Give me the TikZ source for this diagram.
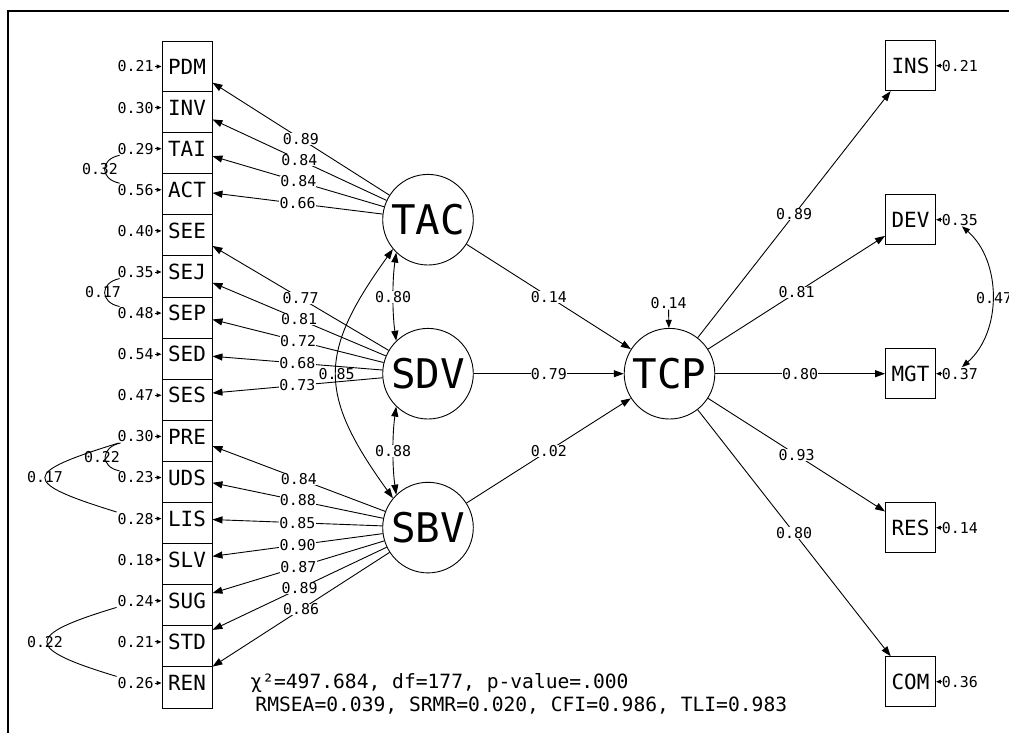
\documentclass[tikz,border=0pt]{standalone}
\usepackage{fontspec}
\setmainfont{DejaVu Sans Mono}
\usetikzlibrary{arrows.meta}
\begin{document}
\begin{tikzpicture}[x=1bp,y=-1bp, line width=0.9bp,
  obs/.style={draw, fill=white, minimum width=50bp, minimum height=50bp, inner sep=0pt, font=\fontsize{21}{21}\selectfont},
  lat/.style={draw, circle, fill=white, minimum size=90.6bp, inner sep=0pt, font=\fontsize{41}{41}\selectfont},
  lbl/.style={fill=white, inner sep=0.2bp, font=\fontsize{15}{15}\selectfont},
  res/.style={inner sep=0.5bp, font=\fontsize{15}{15}\selectfont},
  cov/.style={inner sep=0.5bp, font=\fontsize{15}{15}\selectfont},
  arr/.style={-{Triangle[length=10bp,width=7bp]}},
  marr/.style={-{Triangle[length=8bp,width=6bp]}},
  sarr/.style={-{Triangle[length=5bp,width=4bp]}},
  darr/.style={{Triangle[length=10bp,width=7bp]}-{Triangle[length=10bp,width=7bp]}},
  dmarr/.style={{Triangle[length=8bp,width=6bp]}-{Triangle[length=8bp,width=6bp]}},
  fit/.style={inner sep=0pt, anchor=west, font=\fontsize{19.7}{19.7}\selectfont}
]
\useasboundingbox (0,0) rectangle (1009,733);
\draw[line width=1.5bp] (8,733) -- (8,11) -- (1009,11);

% left observed variables (drawn bottom first so upper boxes overlap lower)
\foreach \n/\i/\r in {REN/15/0.26, STD/14/0.21, SUG/13/0.24, SLV/12/0.18, LIS/11/0.28, UDS/10/0.23, PRE/9/0.30, SES/8/0.47, SED/7/0.54, SEP/6/0.48, SEJ/5/0.35, SEE/4/0.40, ACT/3/0.56, TAI/2/0.29, INV/1/0.30, PDM/0/0.21}{
  \node[obs] (\n) at (187,{66.5+41.1*\i}) {\n};
  \node[res, anchor=east] (r\n) at (154.5,{66.5+41.1*\i}) {\r};
  \draw[sarr] (r\n) -- (\n);
}

% right observed variables
\foreach \n/\i/\r in {INS/0/0.21, DEV/1/0.35, MGT/2/0.37, RES/3/0.14, COM/4/0.36}{
  \node[obs] (\n) at (910.5,{65.7+154*\i}) {\n};
  \node[res, anchor=west] (r\n) at (941,{65.7+154*\i}) {\r};
  \draw[sarr] (r\n) -- (\n);
}

% latent variables
\node[lat] (TAC) at (428,219.7) {TAC};
\node[lat] (SDV) at (428,373.7) {SDV};
\node[lat] (SBV) at (428,527.6) {SBV};
\node[lat] (TCP) at (669.5,373.7) {TCP};

% loadings
\foreach \n/\v [count=\k] in {PDM/0.89, INV/0.84, TAI/0.84, ACT/0.66}
  \draw[arr] (TAC) -- node[lbl] (la\k) {\v} (\n);
\foreach \n/\v [count=\k] in {SEE/0.77, SEJ/0.81, SEP/0.72, SED/0.68, SES/0.73}
  \draw[arr] (SDV) -- node[lbl] (lb\k) {\v} (\n);
\foreach \n/\v [count=\k] in {PRE/0.84, UDS/0.88, LIS/0.85, SLV/0.90, SUG/0.87, STD/0.89, REN/0.86}
  \draw[arr] (SBV) -- node[lbl] (lc\k) {\v} (\n);
\foreach \n/\v [count=\k] in {INS/0.89, DEV/0.81, MGT/0.80, RES/0.93, COM/0.80}
  \draw[arr] (TCP) -- node[lbl] (ld\k) {\v} (\n);

% structural paths
\draw[arr] (TAC) -- node[lbl] (s1) {0.14} (TCP);
\draw[arr] (SDV) -- node[lbl] (s2) {0.79} (TCP);
\draw[arr] (SBV) -- node[lbl] (s3) {0.02} (TCP);
\node[res] (rTCP) at (668.5,303) {0.14};
\draw[marr] (rTCP) -- (TCP);

% latent covariances
\draw[darr] (TAC.226) .. controls +(-4,28) and +(-4,-28) .. node[lbl] (k1) {0.80} (SDV.134);
\draw[darr] (SDV.226) .. controls +(-4,28) and +(-4,-28) .. node[lbl] (k2) {0.88} (SBV.134);
\draw[darr] (TAC.220) .. controls +(-75,104) and +(-75,-104) .. node[cov] (k3) {0.85} (SBV.140);

% residual covariances (left)
\draw ([xshift=3bp]rTAI.south west) .. controls +(-20,4) and +(-20,-4) .. ([xshift=3bp]rACT.north west);
\node[cov] (c1) at (100,169) {0.32};
\draw ([xshift=3bp]rSEJ.south west) .. controls +(-20,4) and +(-20,-4) .. ([xshift=3bp]rSEP.north west);
\node[cov] (c2) at (103,292) {0.17};
\draw ([xshift=4bp]rPRE.south west) .. controls +(-20,4) and +(-20,-4) .. ([xshift=3bp]rUDS.north west);
\node[cov] (c3) at (102,457) {0.22};
\draw ([xshift=2bp]rPRE.south west) .. controls +(-97,30) and +(-97,-30) .. ([xshift=0bp]rLIS.north west);
\node[cov] (c4) at (45,477) {0.17};
\draw ([xshift=0bp]rSUG.south west) .. controls +(-93,28) and +(-93,-28) .. ([xshift=0bp]rREN.north west);
\node[cov] (c5) at (45,642) {0.22};

% residual covariance (right)
\draw[dmarr] ([xshift=2bp]rDEV.south) .. controls +(40,35) and +(40,-35) .. ([xshift=2bp]rMGT.north);
\node[cov] (c6) at (994,298) {0.47};

% fit indices
\node[fit] (f1) at (250,683.3) {χ²=497.684, df=177, p-value=.000};
\node[fit] (f2) at (255,706) {RMSEA=0.039, SRMR=0.020, CFI=0.986, TLI=0.983};
\end{tikzpicture}
\end{document}
